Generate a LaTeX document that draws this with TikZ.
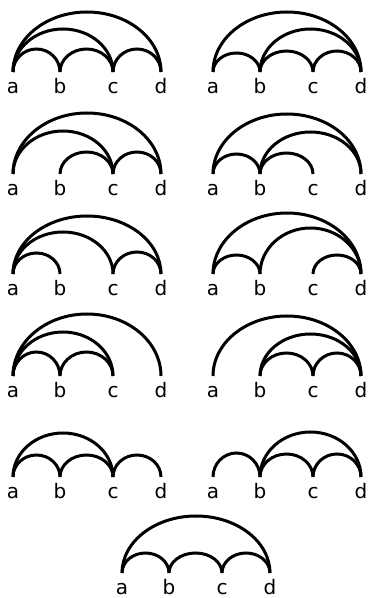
\documentclass[tikz,border=0pt]{standalone}
\usepackage{fontspec}
\setmainfont{DejaVu Sans}
\usetikzlibrary{calc}
\tikzset{
  arcline/.style={draw=black, line width=3pt},
  lbl/.style={anchor=base, inner sep=0pt, font=\fontsize{20}{23}\selectfont}
}
\newcommand\mypanel[4]{%
  \foreach \n/\dx in {a/0,b/47,c/100,d/148} {
    \coordinate (#1\n0) at (#2+\dx, #3);
    \node[lbl] (#1\n) at (#2+\dx, #3-22) {\n};
  }
  \foreach \s/\e/\h in {#4} {
    \draw[arcline] let \p1=(#1\s0), \p2=(#1\e0) in
      (\p1) arc[start angle=180, end angle=0, x radius={(\x2-\x1)/2}, y radius=\h pt];
  }
}
\begin{document}
\begin{tikzpicture}[x=1pt,y=1pt]
\useasboundingbox (0,0) rectangle (369,598);
\mypanel{p1}{13}{526}{a/b/23,b/c/23,c/d/23,a/c/43,a/d/60}
\mypanel{p2}{213}{526}{a/b/19,b/c/21,c/d/21,b/d/43,a/d/60}
\mypanel{p3}{13}{424}{b/c/22,c/d/22,a/c/43,a/d/61}
\mypanel{p4}{213}{424}{a/b/20,b/c/21,b/d/42,a/d/60}
\mypanel{p5}{13}{324}{a/b/21,c/d/22,a/c/42,a/d/58}
\mypanel{p6}{213}{324}{a/b/19,c/d/19,b/d/46,a/d/61}
\mypanel{p7}{13}{222}{a/b/24,b/c/24,a/c/44,a/d/62}
\mypanel{p8}{213}{222}{b/c/23,c/d/23,b/d/42,a/d/60}
\mypanel{p9}{13}{121}{a/b/22,b/c/22,c/d/22,a/c/44}
\mypanel{p10}{213}{121}{a/b/24,b/c/23,c/d/23,b/d/45}
\mypanel{p11}{122}{25}{a/b/20,b/c/20,c/d/20,a/d/57}
\end{tikzpicture}
\end{document}
